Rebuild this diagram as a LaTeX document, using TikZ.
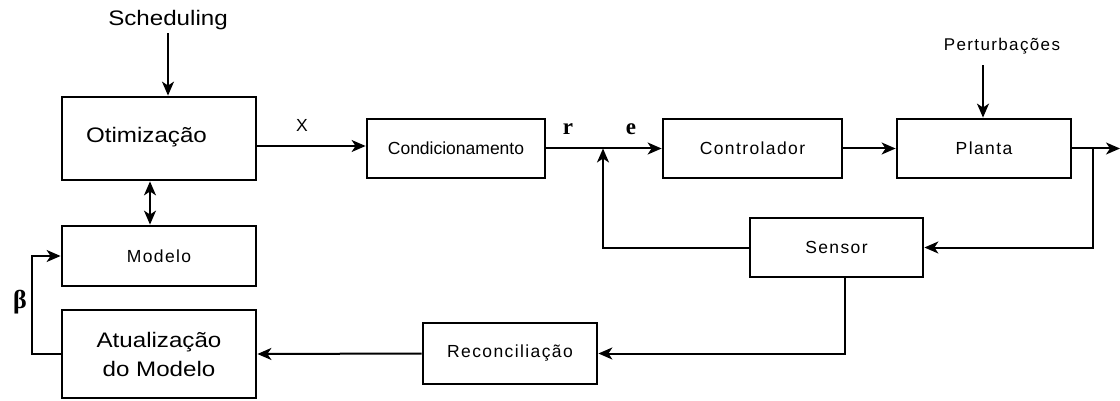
\documentclass[tikz,border=0pt]{standalone}
\usepackage{fontspec}
\setmainfont{Liberation Sans}
\newfontfamily\widesans[FakeStretch=1.15]{Liberation Sans}
\newfontfamily\spacedsans[LetterSpace=8]{Liberation Sans}
\newfontfamily\plainsans{Liberation Sans}
\newfontfamily\boldserif{Liberation Serif}
\usetikzlibrary{arrows.meta}

\tikzset{
  blockbox/.style={draw, line width=2.8pt, minimum height=59pt, inner sep=0pt},
  conn/.style={line width=2pt},
  tip/.tip={Stealth[length=14pt, width=12pt, inset=4pt]},
  arr/.style={conn, -tip},
  bigtxt/.style={font=\widesans\fontsize{21}{29}\selectfont},
  smalltxt/.style={font=\spacedsans\fontsize{17.5}{20}\selectfont},
  plaintxt/.style={font=\plainsans\fontsize{17.5}{20}\selectfont},
  sigtxt/.style={font=\boldserif\bfseries\fontsize{23}{26}\selectfont},
}

\begin{document}
\begin{tikzpicture}[x=1pt, y=-1pt]
\useasboundingbox (0,0) rectangle (1120,401);

% blocks of the upper chain
\node[blockbox, minimum width=194pt, minimum height=83pt] (otim) at (159,138.5) {};
\node[bigtxt] (otimtxt) at (146.5,137) {Otimização};
\node[blockbox, minimum width=178pt, plaintxt] (cond) at (456,148.5) {Condicionamento};
\node[blockbox, minimum width=179pt, smalltxt] (ctrl) at (752.5,148.5) {Controlador};
\node[blockbox, minimum width=174pt, smalltxt] (planta) at (984,148.5) {Planta};

% blocks of the lower part
\node[blockbox, minimum width=194pt, minimum height=60pt, smalltxt] (modelo) at (159,256) {Modelo};
\node[blockbox, minimum width=194pt, minimum height=88pt, bigtxt, align=center] (atual) at (159,354) {Atualização\\do Modelo};
\node[blockbox, minimum width=173pt, smalltxt] (sensor) at (836.5,247.5) {Sensor};
\node[blockbox, minimum width=174pt, minimum height=61pt, smalltxt] (recon) at (510,353.5) {Reconciliação};

% external inputs
\node[bigtxt] (sched) at (168,20) {Scheduling};
\node[font=\spacedsans\fontsize{17}{20}\selectfont] (pert) at (1002,46) {Perturbações};

% signal labels
\node[plaintxt] (xlab) at (302,125) {X};
\node[sigtxt] (rlab) at (568,129) {r};
\node[sigtxt] (elab) at (631,129) {e};
\node[font=\boldserif\bfseries\fontsize{26}{28}\selectfont] (blab) at (20,302) {β};

% junction and branch points
\coordinate (sum) at (603,148.5);
\coordinate (branch) at (1093,148.5);
\coordinate (out) at (1120,148.5);
\coordinate (tap) at (845,277);

% connectors
\draw[arr] (sched.south) -- (sched.south |- otim.north);
\draw[arr] (otim.east |- 0,146) -- (cond.west |- 0,146);
\draw[conn, tip-tip] (otim.south -| 150,0) -- (modelo.north -| 150,0);
\draw[arr] (cond.east) -- (ctrl.west);
\draw[arr] (sensor.west) -| (sum);
\draw[arr] (ctrl.east) -- (planta.west);
\draw[arr] (pert.south -| 983,0) ++(0,8) -- (planta.north -| 983,0);
\draw[arr] (planta.east) -- (out);
\draw[arr] (branch) |- (sensor.east);
\draw[arr] (tap) |- (recon.east);
\draw[arr] (recon.west) -- (atual.east);
\draw[arr] (atual.west) -- ++(-29,0) |- (modelo.west);
\end{tikzpicture}
\end{document}
